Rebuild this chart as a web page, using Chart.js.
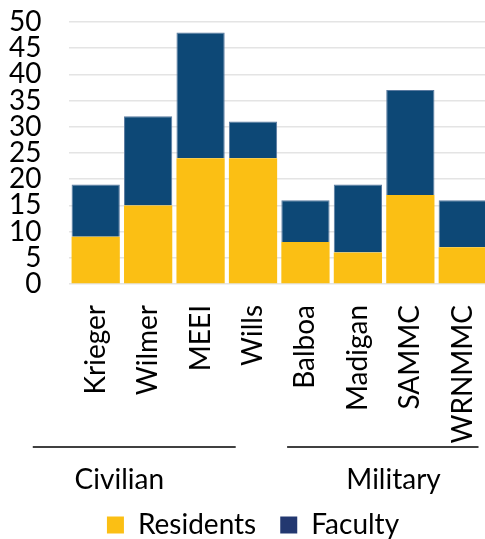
<!DOCTYPE html>
<html><head><meta charset="utf-8">
<script src="https://cdn.jsdelivr.net/npm/chart.js@4/dist/chart.umd.min.js"></script>
<style>
html,body{margin:0;padding:0;background:#fff;overflow:hidden;}
#wrap{position:relative;width:489px;height:539px;}
</style></head>
<body><div id="wrap"><canvas id="c"></canvas></div>
<script>
const categories = ["Krieger","Wilmer","MEEI","Wills","Balboa","Madigan","SAMMC","WRNMMC"];
const residents = [9,15,24,24,8,6,17,7];
const faculty = [10,17,24,7,8,13,20,9];
const yTicks = [0,5,10,15,20,25,30,35,40,45,50];
const groups = ["Civilian","Military"];

const FONT = "Lato, 'Open Sans', sans-serif";
const groupPlugin = {
  id:'groups',
  afterLayout(chart){
    const lg = chart.legend;
    if (lg) { lg.left += 18; lg.right += 18; }
  },
  afterDraw(chart){
    const x = chart.scales.x, ctx = chart.ctx;
    const lineY = x.top + 163, textY = x.top + 196;
    const spans = [[-1.2,2.67,0.45],[3.65,7.3,5.68]];
    ctx.save();
    ctx.strokeStyle='#000'; ctx.lineWidth=1.5;
    ctx.fillStyle='#000'; ctx.font='28px '+FONT;
    ctx.textAlign='center'; ctx.textBaseline='middle';
    spans.forEach((s,i)=>{
      ctx.beginPath();
      ctx.moveTo(x.getPixelForValue(s[0]),lineY);
      ctx.lineTo(x.getPixelForValue(s[1]),lineY);
      ctx.stroke();
      ctx.fillText(groups[i], x.getPixelForValue(s[2]), textY);
    });
    ctx.restore();
  }
};

const chart = new Chart(document.getElementById('c'),{
  type:'bar',
  data:{labels:categories,datasets:[
    {label:'Residents',data:residents,backgroundColor:'#FBBF14',borderWidth:0},
    {label:'Faculty',data:faculty,backgroundColor:'#0D4876',borderColor:'#5a7aa0',borderWidth:{top:1,left:1,right:1,bottom:0}}
  ]},
  options:{
    responsive:true,maintainAspectRatio:false,animation:false,
    layout:{padding:{left:-19,top:22,right:0,bottom:-10}},
    datasets:{bar:{barPercentage:0.92,categoryPercentage:1}},
    scales:{
      x:{stacked:true,grid:{display:false,drawTicks:false},border:{display:false},
        ticks:{minRotation:90,maxRotation:90,padding:21,color:'#000',font:{family:FONT,size:28}},
        afterFit(s){s.height=203;s.paddingLeft=0;s.paddingRight=0;}},
      y:{stacked:true,min:0,max:50,
        afterBuildTicks(s){s.ticks=yTicks.map(v=>({value:v}));},
        afterFit(s){s.paddingTop=0;},
        grid:{color:'#e4e4e4',lineWidth:1.5,drawTicks:false},border:{display:false},
        ticks:{autoSkip:false,padding:28,color:'#000',font:{family:FONT,size:28}}}
    },
    plugins:{
      tooltip:{enabled:false},
      legend:{position:'bottom',
        labels:{boxWidth:17,boxHeight:17,padding:24,color:'#000',font:{family:FONT,size:28},
          generateLabels(chart){
            const cols=['#FBBF14','#233870'];
            return chart.data.datasets.map((d,i)=>({text:d.label,fillStyle:cols[i],strokeStyle:cols[i],lineWidth:0,datasetIndex:i,hidden:false,fontColor:'#000'}));
          }}}
    }
  },
  plugins:[groupPlugin]
});
</script></body></html>
